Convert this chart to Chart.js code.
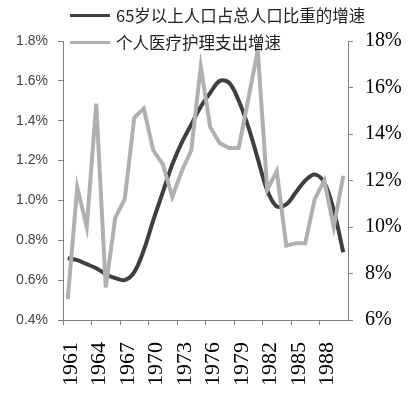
<!DOCTYPE html>
<html>
<head>
<meta charset="utf-8">
<script src="https://cdn.jsdelivr.net/npm/chart.js@4"></script>
<style>
  body { margin: 0; background: #fff; }
  #wrap { position: relative; width: 414px; height: 393px; }
  #legend { position: absolute; left: 70px; top: 0; font-family: "Noto Sans CJK SC", sans-serif; font-size: 16.5px; color: #222; }
  #legend div { position: absolute; white-space: nowrap; display: flex; align-items: center; }
  #legend span.sw { display: inline-block; width: 40px; margin-right: 6px; }
</style>
</head>
<body>
<div id="wrap">
  <canvas id="myChart"></canvas>
  <div id="legend"></div>
</div>
<script>
const years = [1961, 1962, 1963, 1964, 1965, 1966, 1967, 1968, 1969, 1970,
  1971, 1972, 1973, 1974, 1975, 1976, 1977, 1978, 1979, 1980,
  1981, 1982, 1983, 1984, 1985, 1986, 1987, 1988, 1989, 1990];
// left axis, %
const agingGrowth = [0.71, 0.70, 0.68, 0.66, 0.63, 0.61, 0.60, 0.64, 0.75, 0.90,
  1.04, 1.18, 1.29, 1.38, 1.47, 1.54, 1.60, 1.59, 1.50, 1.37,
  1.21, 1.05, 0.97, 0.98, 1.04, 1.10, 1.13, 1.09, 0.95, 0.74];
// right axis, %
const careSpendingGrowth = [6.9, 11.7, 10.0, 15.3, 7.4, 10.4, 11.2, 14.7, 15.1, 13.3,
  12.7, 11.3, 12.4, 13.3, 16.9, 14.3, 13.6, 13.4, 13.4, 15.5,
  17.6, 11.6, 12.4, 9.2, 9.3, 9.3, 11.2, 12.0, 10.0, 12.2];
const labels = ['65岁以上人口占总人口比重的增速', '个人医疗护理支出增速'];

const axisGray = '#808080';
const ctx = document.getElementById('myChart');

const chart = new Chart(ctx, {
  type: 'line',
  data: {
    labels: years,
    datasets: [{
      label: labels[0],
      data: agingGrowth,
      yAxisID: 'y',
      borderColor: '#3f3f3f',
      borderWidth: 4,
      pointRadius: 0,
      tension: 0.35,
      order: 1
    }, {
      label: labels[1],
      data: careSpendingGrowth,
      yAxisID: 'y1',
      borderColor: '#b0b0b0',
      borderWidth: 4,
      pointRadius: 0,
      tension: 0,
      order: 0
    }]
  },
  options: {
    responsive: true,
    maintainAspectRatio: false,
    animation: false,
    layout: { padding: { top: 41, left: 0, right: 0, bottom: 0 } },
    plugins: { legend: { display: false }, tooltip: { enabled: false } },
    scales: {
      x: {
        offset: true,
        afterFit: s => { s.height = 73; },
        border: { color: axisGray },
        grid: {
          offset: true,
          drawOnChartArea: false,
          tickLength: 5,
          color: c => (c.index % 3 === 0 ? axisGray : 'rgba(0,0,0,0)')
        },
        ticks: {
          autoSkip: false,
          minRotation: 90,
          maxRotation: 90,
          padding: 17,
          labelOffset: 3,
          color: '#000',
          font: { family: 'Liberation Serif', size: 22 },
          callback: (v, i) => (i % 3 === 0 ? String(years[i]) : '')
        }
      },
      y: {
        position: 'left',
        min: 0.4,
        max: 1.8,
        afterFit: s => { s.width = 63; },
        border: { color: axisGray },
        grid: { drawOnChartArea: false, tickLength: 5, color: axisGray },
        ticks: {
          stepSize: 0.2,
          padding: 10,
          color: '#444',
          font: { family: 'Liberation Sans', size: 14 },
          callback: v => v.toFixed(1) + '%'
        }
      },
      y1: {
        position: 'right',
        min: 6,
        max: 18,
        afterFit: s => { s.width = 66; },
        border: { color: axisGray },
        grid: { drawOnChartArea: false, tickLength: 5, color: axisGray },
        ticks: {
          stepSize: 2,
          padding: 12,
          color: '#000',
          font: { family: 'Liberation Serif', size: 20 },
          callback: v => v + '%'
        }
      }
    }
  }
});

// legend as html text over the top of the chart
const legend = document.getElementById('legend');
const legendTops = [3, 30];
chart.data.datasets.forEach((ds, i) => {
  const row = document.createElement('div');
  row.style.top = legendTops[i] + 'px';
  const sw = document.createElement('span');
  sw.className = 'sw';
  sw.style.borderTop = '3px solid ' + ds.borderColor;
  row.appendChild(sw);
  row.appendChild(document.createTextNode(ds.label));
  legend.appendChild(row);
});
</script>
</body>
</html>
